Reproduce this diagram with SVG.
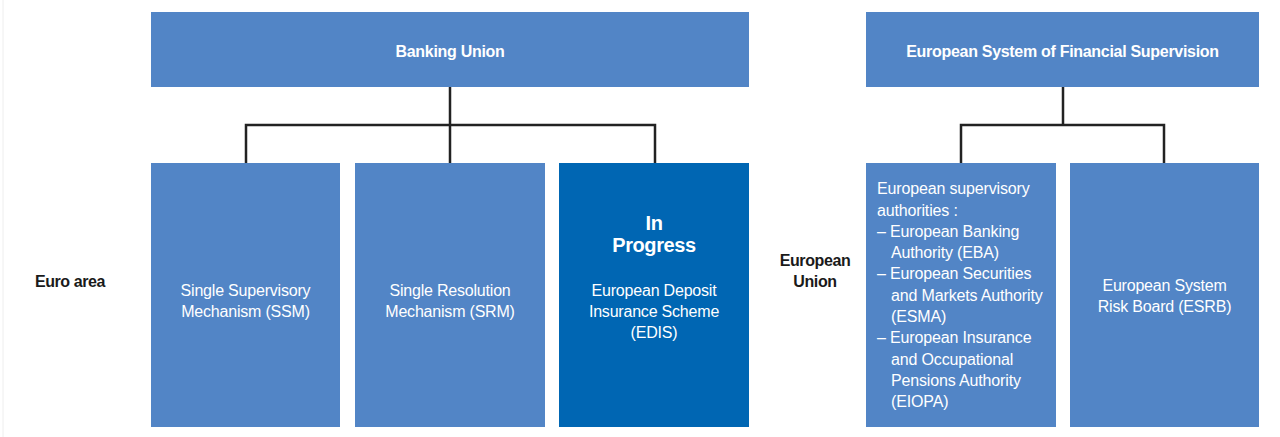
<svg xmlns="http://www.w3.org/2000/svg" width="1280" height="437" viewBox="0 0 1280 437">
  <style>
    text { font-family: "Liberation Sans Narrow", "Liberation Sans", Arial, sans-serif; }
    .box { fill: #5285c6; }
    .box-dark { fill: #0066b3; }
    .head { fill: #ffffff; font-size: 16px; font-weight: bold; text-anchor: middle; letter-spacing: -0.3px; }
    .body { fill: #ffffff; font-size: 16px; text-anchor: middle; letter-spacing: -0.2px; }
    .left { fill: #ffffff; font-size: 16px; letter-spacing: -0.15px; }
    .status { fill: #ffffff; font-size: 20px; font-weight: bold; text-anchor: middle; letter-spacing: -0.4px; }
    .side { fill: #1a1a1a; font-size: 16px; font-weight: bold; text-anchor: middle; letter-spacing: -0.4px; }
    .link { fill: none; stroke: #222222; stroke-width: 2.5; }
  </style>
  <rect x="0" y="0" width="1280" height="437" fill="#ffffff"/>
  <line x1="3" y1="0" x2="3" y2="437" stroke="#eeeeee" stroke-width="1"/>

  <!-- connectors -->
  <g id="connectors">
    <path class="link" d="M450 87 V125 M246 163 V125 H655 V163 M450 125 V163"/>
    <path class="link" d="M1063 87 V125 M961 163 V125 H1164 V163"/>
  </g>

  <!-- row labels -->
  <g id="label-euro-area">
    <text class="side" x="70" y="287">Euro area</text>
  </g>
  <g id="label-european-union">
    <text class="side" x="815" y="266">European</text>
    <text class="side" x="815" y="287">Union</text>
  </g>

  <!-- Banking Union -->
  <g id="banking-union">
    <rect class="box" x="151" y="12" width="598" height="75"/>
    <text class="head" x="450" y="57">Banking Union</text>
  </g>
  <g id="ssm">
    <rect class="box" x="151" y="163" width="189" height="264"/>
    <text class="body" x="245.5" y="296">Single Supervisory</text>
    <text class="body" x="245.5" y="317">Mechanism (SSM)</text>
  </g>
  <g id="srm">
    <rect class="box" x="355" y="163" width="190" height="264"/>
    <text class="body" x="450" y="296">Single Resolution</text>
    <text class="body" x="450" y="317">Mechanism (SRM)</text>
  </g>
  <g id="edis">
    <rect class="box-dark" x="559" y="163" width="190" height="264"/>
    <text class="status" x="654" y="230">In</text>
    <text class="status" x="654" y="252">Progress</text>
    <text class="body" x="654" y="296">European Deposit</text>
    <text class="body" x="654" y="317">Insurance Scheme</text>
    <text class="body" x="654" y="338">(EDIS)</text>
  </g>

  <!-- European System of Financial Supervision -->
  <g id="esfs">
    <rect class="box" x="866" y="12" width="393" height="75"/>
    <text class="head" x="1062.5" y="57">European System of Financial Supervision</text>
  </g>
  <g id="esas">
    <rect class="box" x="866" y="163" width="190" height="264"/>
    <text class="left" x="877" y="194">European supervisory</text>
    <text class="left" x="877" y="216">authorities :</text>
    <text class="left" x="877" y="237">– European Banking</text>
    <text class="left" x="891" y="258">Authority (EBA)</text>
    <text class="left" x="877" y="279">– European Securities</text>
    <text class="left" x="891" y="301">and Markets Authority</text>
    <text class="left" x="891" y="322">(ESMA)</text>
    <text class="left" x="877" y="343">– European Insurance</text>
    <text class="left" x="891" y="365">and Occupational</text>
    <text class="left" x="891" y="386">Pensions Authority</text>
    <text class="left" x="891" y="407">(EIOPA)</text>
  </g>
  <g id="esrb">
    <rect class="box" x="1070" y="163" width="189" height="264"/>
    <text class="body" x="1164.5" y="291">European System</text>
    <text class="body" x="1164.5" y="312">Risk Board (ESRB)</text>
  </g>
</svg>
